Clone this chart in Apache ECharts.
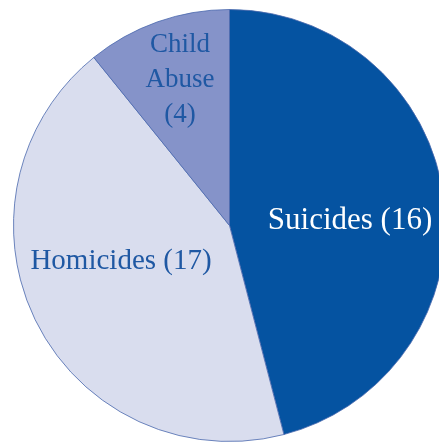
<!DOCTYPE html>
<html><head><meta charset="utf-8">
<script src="https://cdn.jsdelivr.net/npm/echarts@6/dist/echarts.min.js"></script>
<style>html,body{margin:0;padding:0;background:#fff}#c{width:439px;height:442px}</style>
</head><body><div id="c"></div>
<script>
const categories = ['Suicides', 'Homicides', 'Child\nAbuse'];
// counts printed in the labels
const counts = [16, 17, 4];
// slice sizes as drawn in the picture (the original draws the first two swapped)
const sliceValues = [17, 16, 4];
const colors = ['#0553a1', '#d9ddee', '#8593c9'];
const labelColors = ['#ffffff', '#1f58a3', '#1f58a3'];
const labelSizes = [31, 29, 27];
const labelPos = [[350, 221], [121, 261], [180, 80]];

const chart = echarts.init(document.getElementById('c'));
chart.setOption({
  animation: false,
  series: [{
    type: 'pie',
    center: [229.5, 225.5],
    radius: [0, 216],
    startAngle: 90,
    clockwise: true,
    label: {
      show: true,
      position: 'inside',
      fontFamily: 'Liberation Serif',
      formatter: p => p.name + (p.dataIndex === 2 ? '\n' : ' ') + '(' + counts[p.dataIndex] + ')'
    },
    labelLayout: p => ({ x: labelPos[p.dataIndex][0], y: labelPos[p.dataIndex][1] }),
    itemStyle: { borderColor: '#4a68ad', borderWidth: 0.8 },
    emphasis: { disabled: true },
    data: categories.map((c, i) => ({
      name: c, value: sliceValues[i],
      itemStyle: { color: colors[i] },
      label: { color: labelColors[i], fontSize: labelSizes[i], lineHeight: 35 }
    }))
  }]
});
</script></body></html>
